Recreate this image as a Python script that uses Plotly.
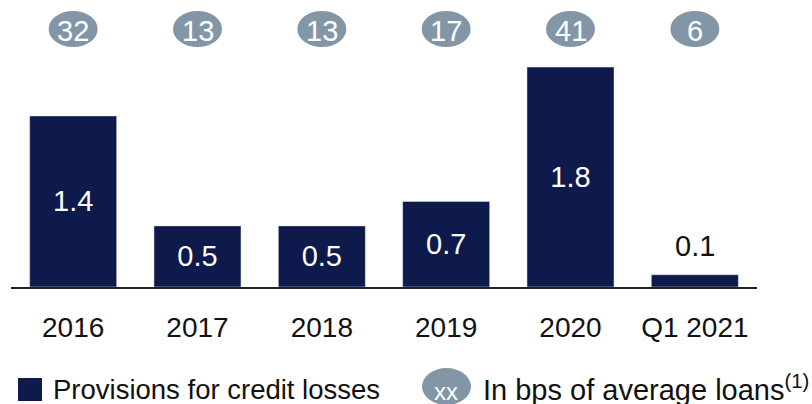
import plotly.graph_objects as go

categories = ["2016", "2017", "2018", "2019", "2020", "Q1 2021"]
provisions = [1.4, 0.5, 0.5, 0.7, 1.8, 0.1]
bps_labels = ["32", "13", "13", "17", "41", "6"]
label_inside = [True, True, True, True, True, False]

BAR = "#0E1A4B"
BUB = "#8396A8"
FONT = "Liberation Sans, Arial, sans-serif"
NARROW = "Liberation Sans Narrow, Liberation Sans, Arial, sans-serif"

W, H = 812, 404
L, R, T, B = 11, 55, 0, 117
PH = H - T - B
PW = W - L - R


def py(p):
    return (H - B - p) / PH


def px(p):
    return (p - L) / PW


fig = go.Figure()
fig.add_trace(go.Bar(
    x=categories, y=provisions, marker_color=BAR, width=0.7,
    text=[f"{v:.1f}" for v in provisions],
    textposition=["inside" if ins else "none" for ins in label_inside],
    insidetextanchor="middle", constraintext="none", cliponaxis=False,
    insidetextfont=dict(family=FONT, size=29, color="white"),
    showlegend=False, hoverinfo="skip",
))

shapes = []
annotations = []
for c, v, ins in zip(categories, provisions, label_inside):
    if not ins:
        annotations.append(dict(x=c, y=v, xref="x", yref="y", text=f"{v:.1f}",
                                showarrow=False, yanchor="bottom", yshift=11,
                                font=dict(family=FONT, size=29, color="#111111")))

for i, lab in enumerate(bps_labels):
    shapes.append(dict(type="circle", xref="x", yref="paper",
                       x0=i - 0.197, x1=i + 0.197, y0=py(47), y1=py(11),
                       fillcolor=BUB, line=dict(width=0)))
    annotations.append(dict(x=i, y=py(31), xref="x", yref="paper", text=lab,
                            showarrow=False, yanchor="middle",
                            font=dict(family=NARROW, size=29, color="white")))

# legend (manual)
shapes.append(dict(type="rect", xref="paper", yref="paper",
                   x0=px(18), x1=px(42), y0=py(401), y1=py(378),
                   fillcolor=BAR, line=dict(width=0)))
annotations.append(dict(x=px(51), y=py(389), xref="paper", yref="paper",
                        text="Provisions for credit losses", showarrow=False,
                        xanchor="left", yanchor="middle",
                        font=dict(family=FONT, size=27.5, color="#111111")))
shapes.append(dict(type="circle", xref="paper", yref="paper",
                   x0=px(422), x1=px(471), y0=py(405), y1=py(368),
                   fillcolor=BUB, line=dict(width=0)))
annotations.append(dict(x=px(446), y=py(391), xref="paper", yref="paper",
                        text="xx", showarrow=False, yanchor="middle",
                        font=dict(family=NARROW, size=24, color="white")))
annotations.append(dict(x=px(481), y=py(388), xref="paper", yref="paper",
                        text="In bps of average loans<sup>(1)</sup>", showarrow=False,
                        xanchor="left", yanchor="middle",
                        font=dict(family=FONT, size=29, color="#111111")))

fig.update_layout(
    width=W, height=H, margin=dict(l=L, r=R, t=T, b=B),
    paper_bgcolor="white", plot_bgcolor="white",
    shapes=shapes, annotations=annotations,
    xaxis=dict(type="category", range=[-0.5, 5.5], showline=True, linecolor="#222222",
               linewidth=2, showgrid=False, ticks="", ticklabelstandoff=14,
               tickfont=dict(family=FONT, size=28, color="#111111")),
    yaxis=dict(range=[0, PH / 122.2], visible=False, showgrid=False, zeroline=False),
    bargap=0.3,
)

fig.write_html("out.html", config={"displayModeBar": False},
               post_script="document.body.style.margin='0';document.body.style.overflow='hidden';")
